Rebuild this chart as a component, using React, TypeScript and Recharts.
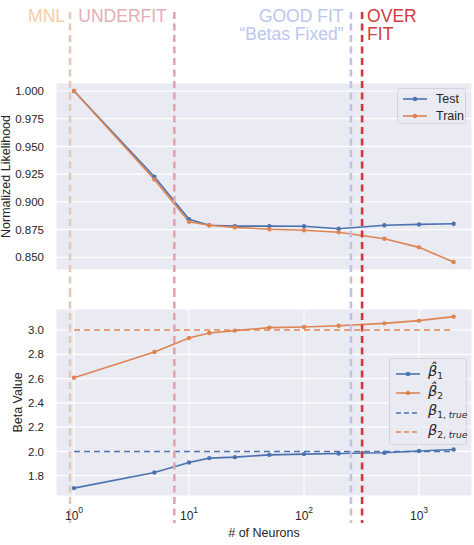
import { CartesianGrid, Label, Legend, Line, LineChart, ReferenceLine, XAxis, YAxis } from "recharts";

// x: number of neurons (log axis)
const neurons = [1, 5, 10, 15, 25, 50, 100, 200, 500, 1000, 2000];

// top panel: normalized likelihood
const testLik = [1.0, 0.9227, 0.8843, 0.8789, 0.8782, 0.8782, 0.878, 0.8758, 0.879, 0.8797, 0.8803];
const trainLik = [1.0, 0.9203, 0.882, 0.879, 0.877, 0.8753, 0.8744, 0.8726, 0.8668, 0.859, 0.8458];

// bottom panel: estimated betas
const beta1Hat = [1.698, 1.827, 1.909, 1.945, 1.953, 1.972, 1.978, 1.983, 1.989, 2.003, 2.016];
const beta2Hat = [2.607, 2.819, 2.934, 2.975, 2.995, 3.02, 3.025, 3.035, 3.055, 3.077, 3.11];
const beta1True = 2.0;
const beta2True = 3.0;

const likTicks = [0.85, 0.875, 0.9, 0.925, 0.95, 0.975, 1.0];
const betaTicks = [1.8, 2.0, 2.2, 2.4, 2.6, 2.8, 3.0];
const decadeTicks = [1, 10, 100, 1000];
const decadeExp = ["0", "1", "2", "3"];

// regime markers (vertical dashed lines across both panels)
const regimeX = [0.923, 7.45, 256, 320];
const regimeText = [["MNL"], ["UNDERFIT"], ["GOOD FIT", "\u201cBetas Fixed\u201d"], ["OVER", "FIT"]];
const regimeLine = ["#e2cab6", "#dfa6ae", "#bcc4e6", "#d3363c"];
const regimeFont = ["#f3cdae", "#e4adb7", "#bcc6ef", "#cd3d3d"];

const BLUE = "#4c72b0";
const ORANGE = "#dd8452";
const BG = "#eaeaf2";
const INK = "#262626";
const X_DOMAIN: [number, number] = [0.697, 2890];

const likData = neurons.map((n, i) => ({ n, test: testLik[i], train: trainLik[i] }));
const betaData = neurons.map((n, i) => ({ n, b1: beta1Hat[i], b2: beta2Hat[i] }));

function regimeShape(i: number, above: number, below: number, withText: boolean) {
  return (props: any) => {
    const x = props.x1;
    const top = Math.min(props.y1, props.y2);
    const bottom = Math.max(props.y1, props.y2);
    const right = i === 3;
    const tx = right ? x + 5 : x - (i === 0 ? 5 : 7.5);
    return (
      <g>
        <line
          x1={x}
          x2={x}
          y1={top - above}
          y2={bottom + below}
          stroke={regimeLine[i]}
          strokeWidth={2.6}
          strokeDasharray="7 4.5"
        />
        {withText &&
          regimeText[i].map((t, k) => (
            <text
              key={k}
              x={tx}
              y={top - 61.5 + k * 18.5}
              textAnchor={right ? "start" : "end"}
              fontSize={17.5}
              fill={regimeFont[i]}
              fontFamily='"Liberation Sans", Arial, sans-serif'
            >
              {t}
            </text>
          ))}
      </g>
    );
  };
}

function yLabel(text: string, cx: number) {
  return (props: any) => {
    const vb = props.viewBox;
    const cy = vb.y + vb.height / 2;
    return (
      <text
        x={cx}
        y={cy}
        transform={`rotate(-90 ${cx} ${cy})`}
        textAnchor="middle"
        dominantBaseline="central"
        fontSize={12.5}
        fill={INK}
      >
        {text}
      </text>
    );
  };
}

function DecadeTick(props: any) {
  const { x, y, payload, index } = props;
  return (
    <text x={x} y={y + 16} textAnchor="middle" fontSize={12} fill={INK}>
      10
      <tspan dy={-7} fontSize={8.5}>
        {decadeExp[index] ?? String(Math.round(Math.log10(payload.value)))}
      </tspan>
    </text>
  );
}

function Sample({ color, dashed }: { color: string; dashed?: boolean }) {
  return (
    <svg width={24} height={10} style={{ display: "block", flex: "none" }}>
      <line
        x1={0}
        x2={24}
        y1={5}
        y2={5}
        stroke={color}
        strokeWidth={1.6}
        strokeDasharray={dashed ? "5 3" : undefined}
      />
      {!dashed && <circle cx={12} cy={5} r={2.2} fill={color} />}
    </svg>
  );
}

const boxStyle = {
  background: "rgba(234,234,242,0.85)",
  border: "1px solid #d4d4dc",
  borderRadius: 3,
  boxSizing: "border-box" as const,
};

function LikLegend() {
  const items = [
    { name: "Test", color: BLUE },
    { name: "Train", color: ORANGE },
  ];
  return (
    <div style={{ ...boxStyle, width: 69, height: 36, padding: "1px 0 0 5px" }}>
      {items.map((it) => (
        <div key={it.name} style={{ display: "flex", alignItems: "center", height: 17 }}>
          <Sample color={it.color} />
          <span style={{ marginLeft: 9, fontSize: 12.5, color: INK }}>{it.name}</span>
        </div>
      ))}
    </div>
  );
}

function BetaLegend() {
  const math = {
    fontFamily: '"DejaVu Sans", sans-serif',
    fontStyle: "italic" as const,
    fontSize: 14.5,
    color: INK,
    whiteSpace: "nowrap" as const,
  };
  const sub = { fontSize: 9, verticalAlign: "-3px", whiteSpace: "nowrap" as const };
  const rows = [
    { color: BLUE, dashed: false, label: <span style={math}>{"\u03b2\u0302"}<span style={{ ...sub, fontStyle: "normal" }}>1</span></span> },
    { color: ORANGE, dashed: false, label: <span style={math}>{"\u03b2\u0302"}<span style={{ ...sub, fontStyle: "normal" }}>2</span></span> },
    { color: BLUE, dashed: true, label: <span style={math}>{"\u03b2"}<span style={sub}><span style={{ fontStyle: "normal" }}>1,</span> true</span></span> },
    { color: ORANGE, dashed: true, label: <span style={math}>{"\u03b2"}<span style={sub}><span style={{ fontStyle: "normal" }}>2,</span> true</span></span> },
  ];
  return (
    <div style={{ ...boxStyle, width: 78, height: 87, padding: "5px 0 0 6px", overflow: "visible" }}>
      {rows.map((r, i) => (
        <div key={i} style={{ display: "flex", alignItems: "center", height: 19.5, whiteSpace: "nowrap" }}>
          <Sample color={r.color} dashed={r.dashed} />
          <span style={{ marginLeft: 8, lineHeight: "16px", whiteSpace: "nowrap" }}>{r.label}</span>
        </div>
      ))}
    </div>
  );
}

export default function App() {
  return (
    <div
      style={{
        position: "absolute",
        left: 0,
        top: 0,
        width: 474,
        height: 545,
        background: "#fff",
        fontFamily: '"Liberation Sans", Arial, sans-serif',
      }}
    >
      <LineChart width={474} height={290} data={likData} margin={{ top: 83, right: 2, bottom: 20, left: 0 }}>
        <CartesianGrid stroke="#fff" strokeWidth={1.2} fill={BG} />
        <XAxis
          dataKey="n"
          type="number"
          scale="log"
          domain={X_DOMAIN}
          ticks={decadeTicks}
          allowDataOverflow
          tick={false}
          tickLine={false}
          axisLine={false}
          height={0}
        />
        <YAxis
          type="number"
          domain={[0.8386, 1.0072]}
          ticks={likTicks}
          allowDataOverflow
          width={56}
          tickLine={false}
          axisLine={false}
          tickMargin={6}
          tick={{ fontSize: 11.5, fill: INK }}
          tickFormatter={(v: number) => v.toFixed(3)}
        >
          <Label content={yLabel("Normalized Likelihood", 6)} />
        </YAxis>
        <Line dataKey="test" stroke={BLUE} strokeWidth={1.6} dot={{ r: 2.2, fill: BLUE, strokeWidth: 0 }} isAnimationActive={false} />
        <Line dataKey="train" stroke={ORANGE} strokeWidth={1.6} dot={{ r: 2.2, fill: ORANGE, strokeWidth: 0 }} isAnimationActive={false} />
        {regimeX.map((x, i) => (
          <ReferenceLine key={i} x={x} shape={regimeShape(i, 71, 20, true)} />
        ))}
        <Legend
          layout="vertical"
          verticalAlign="middle"
          align="center"
          wrapperStyle={{ left: 397, top: 88, width: 69 }}
          content={() => <LikLegend />}
        />
      </LineChart>

      <LineChart width={474} height={255} data={betaData} margin={{ top: 19, right: 2, bottom: 0, left: 0 }}>
        <CartesianGrid stroke="#fff" strokeWidth={1.2} fill={BG} />
        <XAxis
          dataKey="n"
          type="number"
          scale="log"
          domain={X_DOMAIN}
          ticks={decadeTicks}
          allowDataOverflow
          tickLine={false}
          axisLine={false}
          height={49}
          tick={<DecadeTick />}
        >
          <Label value="# of Neurons" position="insideBottom" offset={8} fontSize={12.5} fill={INK} />
        </XAxis>
        <YAxis
          type="number"
          domain={[1.633, 3.173]}
          ticks={betaTicks}
          allowDataOverflow
          width={56}
          tickLine={false}
          axisLine={false}
          tickMargin={6}
          tick={{ fontSize: 11.5, fill: INK }}
          tickFormatter={(v: number) => v.toFixed(1)}
        >
          <Label content={yLabel("Beta Value", 18)} />
        </YAxis>
        <ReferenceLine
          segment={[{ x: neurons[0], y: beta2True }, { x: neurons[neurons.length - 1], y: beta2True }]}
          stroke={ORANGE}
          strokeWidth={1.6}
          strokeDasharray="6 4"
        />
        <ReferenceLine
          segment={[{ x: neurons[0], y: beta1True }, { x: neurons[neurons.length - 1], y: beta1True }]}
          stroke={BLUE}
          strokeWidth={1.6}
          strokeDasharray="6 4"
        />
        <Line dataKey="b1" stroke={BLUE} strokeWidth={1.6} dot={{ r: 2.2, fill: BLUE, strokeWidth: 0 }} isAnimationActive={false} />
        <Line dataKey="b2" stroke={ORANGE} strokeWidth={1.6} dot={{ r: 2.2, fill: ORANGE, strokeWidth: 0 }} isAnimationActive={false} />
        {regimeX.map((x, i) => (
          <ReferenceLine key={i} x={x} shape={regimeShape(i, 19, 27, false)} />
        ))}
        <Legend
          layout="vertical"
          verticalAlign="middle"
          align="center"
          wrapperStyle={{ left: 389, top: 68, width: 78 }}
          content={() => <BetaLegend />}
        />
      </LineChart>
    </div>
  );
}
